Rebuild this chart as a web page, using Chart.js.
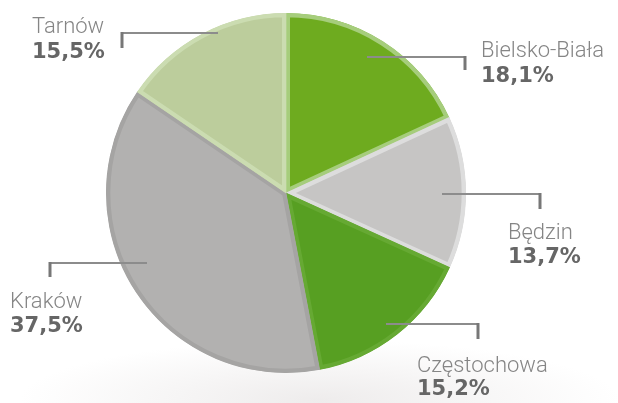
<!DOCTYPE html>
<html>
<head>
<meta charset="utf-8">
<script src="https://cdn.jsdelivr.net/npm/chart.js@4.4.1/dist/chart.umd.min.js"></script>
<style>
  html, body { margin: 0; padding: 0; }
  body {
    width: 618px; height: 403px; overflow: hidden;
    background:
      radial-gradient(ellipse 300px 60px at 320px 400px, #eeecec 0%, rgba(255,255,255,0) 100%),
      #fff;
  }
  #wrap { position: relative; width: 618px; height: 403px; }
</style>
</head>
<body>
<div id="wrap"><canvas id="chart" width="618" height="403"></canvas></div>
<script>
// Udział miast (kolejność zgodnie z ruchem wskazówek zegara od góry)
const CITIES = ['Bielsko-Biała', 'Będzin', 'Częstochowa', 'Kraków', 'Tarnów'];
const SHARES = [18.1, 13.7, 15.2, 37.5, 15.5];
const SHARE_LABELS = ['18,1%', '13,7%', '15,2%', '37,5%', '15,5%'];

const FILL_COLORS = ['#6eab1f', '#c6c5c4', '#579f22', '#b2b1b0', '#bccd9c'];
const EDGE_COLORS = ['#a6cd7c', '#dddddd', '#66a933', '#a5a4a3', '#cbdcb1'];

// leader line: [startX, y, endX, tickBottom], text: [x, nameBaseline, pctBaseline]
const CALLOUTS = [
  { line: [367, 57, 465, 70],  text: [481, 57, 82] },
  { line: [442, 194, 540, 209], text: [508, 239, 263] },
  { line: [386, 324, 478, 339], text: [417, 372, 395] },
  { line: [147, 263, 50, 277],  text: [10, 308, 332] },
  { line: [218, 33, 122, 48],   text: [32, 33, 58] },
];

const calloutPlugin = {
  id: 'callouts',
  afterDatasetsDraw(chart) {
    const ctx = chart.ctx;
    ctx.save();
    CALLOUTS.forEach((c, i) => {
      const [x1, y, x2, yb] = c.line;
      ctx.strokeStyle = '#8c8c8c';
      ctx.lineWidth = 2;
      ctx.beginPath();
      ctx.moveTo(x1, y);
      ctx.lineTo(x2, y);
      ctx.stroke();
      ctx.strokeStyle = '#777';
      ctx.lineWidth = 3;
      ctx.beginPath();
      ctx.moveTo(x2, y - 1);
      ctx.lineTo(x2, yb);
      ctx.stroke();

      const [tx, ny, py] = c.text;
      ctx.textAlign = 'left';
      ctx.textBaseline = 'alphabetic';
      ctx.fillStyle = '#858585';
      ctx.font = "300 22px 'Roboto'";
      ctx.fillText(CITIES[i], tx, ny);
      ctx.fillStyle = '#666';
      ctx.font = "bold 21px 'DejaVu Sans'";
      ctx.fillText(SHARE_LABELS[i], tx, py);
    });
    ctx.restore();
  }
};

new Chart(document.getElementById('chart'), {
  type: 'pie',
  data: {
    labels: CITIES,
    datasets: [{
      data: SHARES,
      backgroundColor: FILL_COLORS,
      borderColor: EDGE_COLORS,
      borderWidth: 4,
      borderAlign: 'inner',
      borderJoinStyle: 'miter',
    }]
  },
  options: {
    responsive: false,
    animation: false,
    layout: { padding: { top: 13, bottom: 30, left: 0, right: 46 } },
    plugins: {
      legend: { display: false },
      tooltip: { enabled: false },
    }
  },
  plugins: [calloutPlugin]
});
</script>
</body>
</html>
